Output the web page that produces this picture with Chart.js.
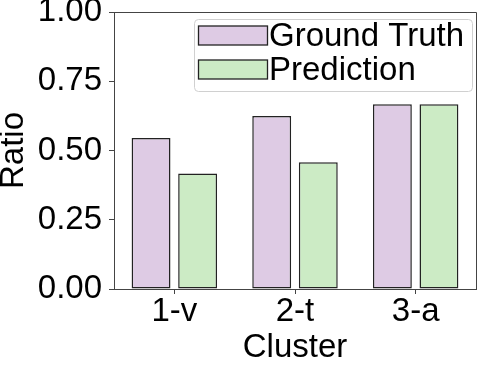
<!DOCTYPE html>
<html>
<head>
<meta charset="utf-8">
<script src="https://cdn.jsdelivr.net/npm/chart.js@4.4.0/dist/chart.umd.min.js"></script>
<style>
  html, body { margin: 0; padding: 0; background: #fff; }
  canvas { display: block; }
</style>
</head>
<body>
<canvas id="chart" width="478" height="368"></canvas>
<script>
const categories = ["1-v", "2-t", "3-a"];
const seriesNames = ["Ground Truth", "Prediction"];
const groundTruth = [0.545, 0.625, 0.667];
const prediction = [0.417, 0.458, 0.667];
const yTicks = [0, 0.25, 0.5, 0.75, 1];

const FONT = "'Liberation Sans', Arial, sans-serif";
const FS = 33;
const EDGE = "#222";
const SPINE = "#444";

Chart.defaults.font.family = FONT;
Chart.defaults.color = "#000";

// top and right spines, like a matplotlib axes box
const frame = {
  id: "frame",
  afterDatasetsDraw(chart) {
    const { ctx, chartArea: a } = chart;
    ctx.save();
    ctx.strokeStyle = SPINE;
    ctx.lineWidth = 1;
    ctx.beginPath();
    ctx.moveTo(a.left, a.top + 0.5);
    ctx.lineTo(a.right + 0.5, a.top + 0.5);
    ctx.lineTo(a.right + 0.5, a.bottom);
    ctx.stroke();
    ctx.restore();
  }
};

// legend box in the upper right corner of the plot
const boxLegend = {
  id: "boxLegend",
  afterDraw(chart) {
    const ctx = chart.ctx;
    const x = 194.5, y = 19.5, w = 278, h = 72, r = 4;
    ctx.save();
    ctx.beginPath();
    ctx.roundRect(x, y, w, h, r);
    ctx.fillStyle = "rgba(255,255,255,0.8)";
    ctx.fill();
    ctx.strokeStyle = "#d0d0d0";
    ctx.lineWidth = 1;
    ctx.stroke();

    ctx.font = FS + "px " + FONT;
    ctx.textBaseline = "middle";
    ctx.textAlign = "left";
    chart.data.datasets.forEach((ds, i) => {
      const cy = 35.5 + i * 34;
      ctx.fillStyle = ds.backgroundColor;
      ctx.fillRect(198.5, cy - 9.5, 69, 19);
      ctx.strokeStyle = EDGE;
      ctx.lineWidth = 1.3;
      ctx.strokeRect(198.5, cy - 9.5, 69, 19);
      ctx.fillStyle = "#000";
      ctx.fillText(ds.label, 269, cy + 1);
    });
    ctx.restore();
  }
};

new Chart(document.getElementById("chart"), {
  type: "bar",
  data: {
    labels: categories,
    datasets: [
      {
        label: seriesNames[0],
        data: groundTruth,
        backgroundColor: "#decbe4",
        borderColor: EDGE,
        borderWidth: 1.5,
        borderSkipped: false
      },
      {
        label: seriesNames[1],
        data: prediction,
        backgroundColor: "#ccebc5",
        borderColor: EDGE,
        borderWidth: 1.5,
        borderSkipped: false
      }
    ]
  },
  options: {
    responsive: false,
    animation: false,
    devicePixelRatio: 1,
    categoryPercentage: 0.772,
    barPercentage: 0.835,
    layout: { padding: { top: 12, right: 2, left: 0, bottom: 0 } },
    plugins: {
      legend: { display: false },
      tooltip: { enabled: false }
    },
    scales: {
      x: {
        offset: true,
        grid: {
          offset: false,
          drawOnChartArea: false,
          drawTicks: true,
          tickLength: 5,
          color: SPINE
        },
        border: { color: SPINE, width: 1 },
        ticks: {
          font: { size: FS, lineHeight: 1 },
          padding: 1,
          color: "#000",
          maxRotation: 0
        },
        title: {
          display: true,
          text: "Cluster",
          font: { size: FS, lineHeight: 1 },
          padding: { top: 0, bottom: 4 },
          color: "#000"
        },
        afterFit(axis) { axis.height = 79; }
      },
      y: {
        min: 0,
        max: 1,
        afterBuildTicks(axis) {
          axis.ticks = yTicks.map(v => ({ value: v }));
        },
        grid: {
          drawOnChartArea: false,
          drawTicks: true,
          tickLength: 5,
          color: SPINE
        },
        border: { color: SPINE, width: 1 },
        ticks: {
          font: { size: FS, lineHeight: 0.3 },
          padding: 7,
          color: "#000",
          callback: v => Number(v).toFixed(2)
        },
        title: {
          display: true,
          text: "Ratio",
          font: { size: FS, lineHeight: 0.85 },
          padding: 0,
          color: "#000"
        },
        afterFit(axis) { axis.width = 114; }
      }
    }
  },
  plugins: [frame, boxLegend]
});
</script>
</body>
</html>
